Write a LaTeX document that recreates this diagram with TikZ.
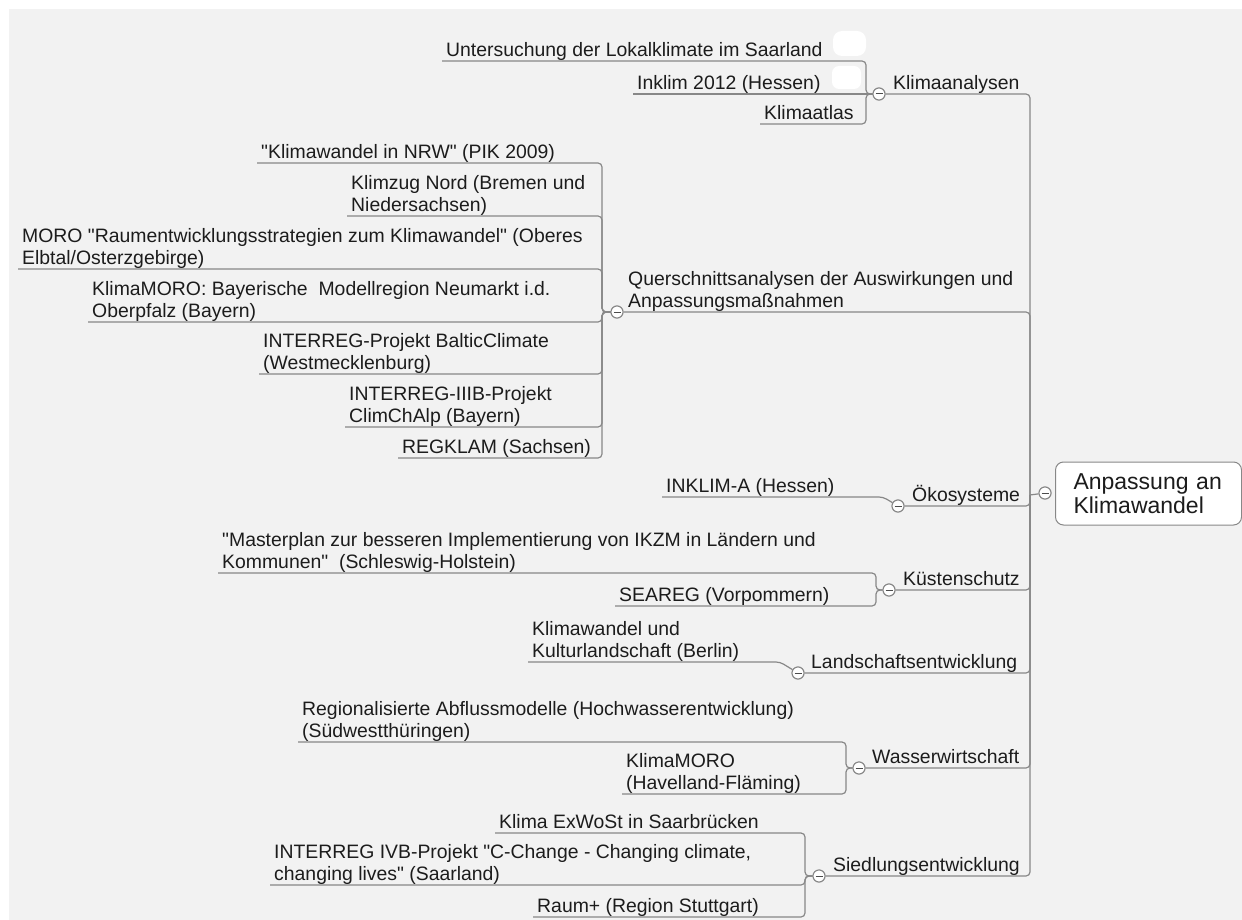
\documentclass[tikz,border=0pt]{standalone}
\usepackage{fontspec}
\setmainfont{Liberation Sans}[Ligatures=TeXOff]
\definecolor{bg}{HTML}{F2F2F2}
\definecolor{ln}{HTML}{888888}
\definecolor{tx}{HTML}{1C1C1C}
\newcommand\mystrut{\rule[-4.5pt]{0pt}{4.5pt}}
\tikzset{
  lbl/.style={anchor=south west, inner xsep=4pt, inner ysep=0pt, align=left,
    font=\fontsize{19.4}{22}\selectfont, text=tx},
  conn/.style={draw=ln, line width=1.2pt, rounded corners=4pt},
  knob/.style={circle, draw=ln, fill=white, line width=1pt, minimum size=12pt, inner sep=0pt,
    path picture={\draw[line width=1pt, black!70]
      ([xshift=-3.5pt]path picture bounding box.center) --
      ([xshift=3.5pt]path picture bounding box.center);}},
  rootbox/.style={draw=ln, fill=white, line width=1pt, rounded corners=8pt, anchor=west,
    minimum width=186pt, minimum height=63pt, inner xsep=18pt, align=left,
    font=\fontsize{23}{23.5}\selectfont, text=tx, text width=150pt},
}
\begin{document}
\begin{tikzpicture}[x=1pt,y=-1pt]
\useasboundingbox (0,0) rectangle (1242,920);
\fill[white] (0,0) rectangle (1242,920);
\fill[bg] (9,9) rectangle (1242,920);
% faint white blobs
\fill[white, rounded corners=9pt] (833,31) rectangle (866,56);
\fill[white, rounded corners=7pt] (832,66) rectangle (861,89);

\coordinate (T) at (1030,495);

% root
\node[rootbox] (root) at (1055,493.5) {Anpassung an\\Klimawandel};
\node[knob] (rk) at (1045,493) {};
\draw[conn] (T) -- (rk);

% Klimaanalysen
\node[knob] (k1) at (879,94) {};
\node[lbl] (m1) at (889,94) {Klimaanalysen\mystrut};
\node[lbl] (c11) at (442,61) {Untersuchung der Lokalklimate im Saarland\mystrut};
\node[lbl] (c12) at (633,94) {Inklim 2012 (Hessen)\mystrut};
\node[lbl] (c13) at (760,124) {Klimaatlas\mystrut};
\coordinate (b1) at (866,94);
\draw[conn] (c11.south west) -- (c11.south west -| b1) -- (b1) -- (k1);
\draw[conn] (c12.south west) -- (k1);
\draw[conn] (c13.south west) -- (c13.south west -| b1) -- (b1) -- (k1);
\draw[conn] (k1.east) -- (k1.east -| T) -- (T);

% Querschnittsanalysen
\node[knob] (k2) at (617,312) {};
\node[lbl] (m2) at (624,312) {Querschnittsanalysen der Auswirkungen und\\Anpassungsmaßnahmen\mystrut};
\coordinate (b2) at (602,312);
\node[lbl] (c21) at (257,163) {"Klimawandel in NRW" (PIK 2009)\mystrut};
\node[lbl] (c22) at (347,216) {Klimzug Nord (Bremen und\\Niedersachsen)\mystrut};
\node[lbl] (c23) at (18,269) {MORO "Raumentwicklungsstrategien zum Klimawandel" (Oberes\\Elbtal/Osterzgebirge)\mystrut};
\node[lbl] (c24) at (88,322) {KlimaMORO: Bayerische\ \ Modellregion Neumarkt i.d.\\Oberpfalz (Bayern)\mystrut};
\node[lbl] (c25) at (259,374) {INTERREG-Projekt BalticClimate\\(Westmecklenburg)\mystrut};
\node[lbl] (c26) at (345,427) {INTERREG-IIIB-Projekt\\ClimChAlp (Bayern)\mystrut};
\node[lbl] (c27) at (398,458) {REGKLAM (Sachsen)\mystrut};
\foreach \c in {c21,c22,c23,c24,c25,c26,c27}
  \draw[conn] (\c.south west) -- (\c.south west -| b2) -- (b2) -- (k2);
\draw[conn] (k2.east) -- (k2.east -| T) -- (T);

% Oekosysteme
\node[knob] (k3) at (898,506) {};
\node[lbl] (m3) at (908,506) {Ökosysteme\mystrut};
\node[lbl] (c31) at (662,497) {INKLIM-A (Hessen)\mystrut};
\coordinate (b3) at (883,497);
\draw[conn] (c31.south west) -- (b3) -- (k3);
\draw[conn] (k3.east) -- (k3.east -| T) -- (T);

% Kuestenschutz
\node[knob] (k4) at (889,590) {};
\node[lbl] (m4) at (899,590) {Küstenschutz\mystrut};
\node[lbl] (c41) at (218,573) {"Masterplan zur besseren Implementierung von IKZM in Ländern und\\Kommunen"\ \ (Schleswig-Holstein)\mystrut};
\node[lbl] (c42) at (615,606) {SEAREG (Vorpommern)\mystrut};
\coordinate (b4) at (876,590);
\foreach \c in {c41,c42}
  \draw[conn] (\c.south west) -- (\c.south west -| b4) -- (b4) -- (k4);
\draw[conn] (k4.east) -- (k4.east -| T) -- (T);

% Landschaftsentwicklung
\node[knob] (k5) at (798,673) {};
\node[lbl] (m5) at (807,673) {Landschaftsentwicklung\mystrut};
\node[lbl] (c51) at (528,662) {Klimawandel und\\Kulturlandschaft (Berlin)\mystrut};
\coordinate (b5) at (780,662);
\draw[conn] (c51.south west) -- (b5) -- (k5);
\draw[conn] (k5.east) -- (k5.east -| T) -- (T);

% Wasserwirtschaft
\node[knob] (k6) at (859,768) {};
\node[lbl] (m6) at (868,768) {Wasserwirtschaft\mystrut};
\node[lbl] (c61) at (298,742) {Regionalisierte Abflussmodelle (Hochwasserentwicklung)\\(Südwestthüringen)\mystrut};
\node[lbl] (c62) at (622,794) {KlimaMORO\\(Havelland-Fläming)\mystrut};
\coordinate (b6) at (846,768);
\foreach \c in {c61,c62}
  \draw[conn] (\c.south west) -- (\c.south west -| b6) -- (b6) -- (k6);
\draw[conn] (k6.east) -- (k6.east -| T) -- (T);

% Siedlungsentwicklung
\node[knob] (k7) at (819,876) {};
\node[lbl] (m7) at (829,876) {Siedlungsentwicklung\mystrut};
\node[lbl] (c71) at (495,833) {Klima ExWoSt in Saarbrücken\mystrut};
\node[lbl] (c72) at (270,885) {INTERREG IVB-Projekt "C-Change - Changing climate,\\changing lives" (Saarland)\mystrut};
\node[lbl] (c73) at (533,917) {Raum+ (Region Stuttgart)\mystrut};
\coordinate (b7) at (805,876);
\foreach \c in {c71,c72,c73}
  \draw[conn] (\c.south west) -- (\c.south west -| b7) -- (b7) -- (k7);
\draw[conn] (k7.east) -- (k7.east -| T) -- (T);

% redraw knobs on top
\foreach \k in {k1,k2,k3,k4,k5,k6,k7,rk}
  \node[knob] at (\k) {};
\end{tikzpicture}
\end{document}
